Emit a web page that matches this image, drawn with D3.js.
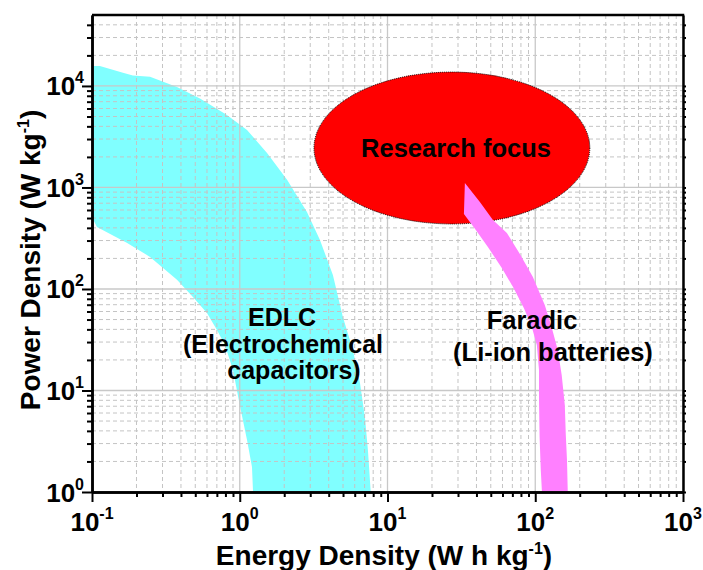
<!DOCTYPE html>
<html><head><meta charset="utf-8">
<script src="https://cdn.jsdelivr.net/npm/d3@7/dist/d3.min.js"></script>
<style>body{margin:0;background:#fff}svg{display:block}</style>
</head><body>
<svg id="c" width="703" height="570"></svg>
<script>
// ---------- data ----------
const xDomain = [0.1, 1000];
const yDomain = [1, 50000];
const xMajor = [0.1, 1, 10, 100, 1000];
const xExp = ["-1", "0", "1", "2", "3"];
const yMajor = [1, 10, 100, 1000, 10000];
const yExp = ["0", "1", "2", "3", "4"];

// EDLC region outline (energy W h/kg, power W/kg)
const edlcEnergy = [0.1, 0.113, 0.162, 0.189, 0.247, 0.376, 0.538, 0.819, 1.12, 1.53, 2.09, 2.85, 3.49, 4.27, 4.99, 5.83, 6.51, 7.03, 7.37, 7.7,
                    1.23, 1.21, 1.12, 1.00, 0.90, 0.794, 0.701, 0.600, 0.482, 0.376, 0.247, 0.173, 0.108, 0.1];
const edlcPower  = [15700, 15700, 13500, 12700, 12300, 9780, 7540, 5180, 3690, 2190, 1190, 574, 304, 137, 53, 25, 11.9, 5.48, 2.59, 1,
                    1, 1.76, 3.25, 7.2, 15.9, 28.1, 39.4, 58, 83.4, 123, 207, 284, 408, 512];

// Faradic (Li-ion) band outline
const faradicEnergy = [33.4, 42.2, 51.7, 64.3, 78.7, 96.4, 116, 129, 142, 151, 158.5, 161, 164, 166,
                       111, 109, 107, 106, 106, 102.5, 94.8, 83.7, 70.6, 59.4, 47.8, 39.6, 32.9];
const faradicPower  = [1107, 720, 478, 356, 221, 131, 69.5, 42.2, 25.1, 14.2, 7.2, 3.64, 2.07, 1,
                       1, 1.65, 3.48, 8.06, 15.9, 28.1, 42.2, 65, 105, 161, 259, 381, 548];

// Research focus ellipse extents
const focusEnergy = [3.18, 234];
const focusPower = [437, 13700];

const labelEDLC = ["EDLC", "(Electrochemical", "capacitors)"];
const labelFaradic = ["Faradic", "(Li-ion batteries)"];
const labelFocus = "Research focus";

// ---------- drawing ----------
const FONT = "'Liberation Sans', Arial, Helvetica, sans-serif";
const svg = d3.select("#c");
const L = 92, R = 683, T = 15, B = 492;
const x = d3.scaleLog().domain(xDomain).range([L, R]);
const y = d3.scaleLog().domain(yDomain).range([B, T]);

function minors(dom) {
  const out = [];
  for (let e = Math.round(Math.log10(dom[0])); e < Math.ceil(Math.log10(dom[1])); e++) {
    for (let m = 2; m <= 9; m++) {
      const v = +(m * Math.pow(10, e)).toPrecision(6);
      if (v > dom[0] && v < dom[1]) out.push(v);
    }
  }
  return out;
}
const xMinor = minors(xDomain);
const yMinor = minors(yDomain);

svg.append("defs").append("clipPath").attr("id", "plot")
  .append("rect").attr("x", L).attr("y", T).attr("width", R - L).attr("height", B - T);

const plot = svg.append("g").attr("clip-path", "url(#plot)");

const area = d3.line().x(d => x(d[0])).y(d => y(d[1])).curve(d3.curveLinearClosed);

// EDLC region
plot.append("path")
  .attr("d", area(edlcEnergy.map((e, i) => [e, edlcPower[i]])))
  .attr("fill", "#80ffff");

// grid
const grid = plot.append("g");
grid.selectAll(".vmin").data(xMinor).join("line")
  .attr("x1", d => x(d)).attr("x2", d => x(d)).attr("y1", T).attr("y2", B)
  .attr("stroke", "#c4c4c4").attr("stroke-width", 1).attr("stroke-dasharray", "4,3");
grid.selectAll(".hmin").data(yMinor).join("line")
  .attr("y1", d => y(d)).attr("y2", d => y(d)).attr("x1", L).attr("x2", R)
  .attr("stroke", "#c4c4c4").attr("stroke-width", 1).attr("stroke-dasharray", "4,3");
grid.selectAll(".vmaj").data(xMajor).join("line")
  .attr("x1", d => x(d)).attr("x2", d => x(d)).attr("y1", T).attr("y2", B)
  .attr("stroke", "#c8c8c8").attr("stroke-width", 1.3);
grid.selectAll(".hmaj").data(yMajor).join("line")
  .attr("y1", d => y(d)).attr("y2", d => y(d)).attr("x1", L).attr("x2", R)
  .attr("stroke", "#c8c8c8").attr("stroke-width", 1.3);

// Research focus ellipse
const ex0 = x(focusEnergy[0]), ex1 = x(focusEnergy[1]);
const ey0 = y(focusPower[1]), ey1 = y(focusPower[0]);
plot.append("ellipse")
  .attr("cx", (ex0 + ex1) / 2).attr("cy", (ey0 + ey1) / 2)
  .attr("rx", (ex1 - ex0) / 2).attr("ry", (ey1 - ey0) / 2)
  .attr("fill", "#ff0000").attr("stroke", "#000").attr("stroke-width", 1)
  .attr("stroke-dasharray", "1,1");

// Faradic band
plot.append("path")
  .attr("d", area(faradicEnergy.map((e, i) => [e, faradicPower[i]])))
  .attr("fill", "#ff80ff");

// annotations
const ann = svg.append("g").attr("font-family", FONT).attr("font-weight", "bold")
  .attr("font-size", 25).attr("fill", "#000").attr("text-anchor", "middle");
ann.append("text").attr("x", 456).attr("y", 157).attr("font-size", 25.5).text(labelFocus);
const edlcPos = [[282, 326], [283, 353], [294, 379]];
labelEDLC.forEach((t, i) => ann.append("text").attr("x", edlcPos[i][0]).attr("y", edlcPos[i][1]).text(t));
const farPos = [[532, 329], [553, 361]];
labelFaradic.forEach((t, i) => ann.append("text").attr("x", farPos[i][0]).attr("y", farPos[i][1]).attr("font-size", 25.5).text(t));

// axes
function styleAxis(g) {
  g.select(".domain").attr("stroke", "#000").attr("stroke-width", 2.5);
  g.selectAll(".tick line").attr("stroke", "#000").attr("stroke-width", 2);
  g.selectAll(".tick text").remove();
}
svg.append("g").attr("transform", `translate(0,${B})`)
  .call(d3.axisBottom(x).tickValues(xMinor).tickSize(5).tickSizeOuter(0).tickFormat(""))
  .call(styleAxis);
svg.append("g").attr("transform", `translate(0,${B})`)
  .call(d3.axisBottom(x).tickValues(xMajor).tickSize(10).tickSizeOuter(0).tickFormat(""))
  .call(styleAxis);
svg.append("g").attr("transform", `translate(${L},0)`)
  .call(d3.axisLeft(y).tickValues(yMinor).tickSize(5).tickSizeOuter(0).tickFormat(""))
  .call(styleAxis);
svg.append("g").attr("transform", `translate(${L},0)`)
  .call(d3.axisLeft(y).tickValues(yMajor).tickSize(10).tickSizeOuter(0).tickFormat(""))
  .call(styleAxis);
svg.append("g").attr("transform", `translate(${R},0)`)
  .call(d3.axisRight(y).tickValues(yMajor.concat(yMinor)).tickSize(3).tickSizeOuter(0).tickFormat(""))
  .call(styleAxis);
svg.append("line").attr("x1", L).attr("x2", R + 1.25).attr("y1", T).attr("y2", T)
  .attr("stroke", "#000").attr("stroke-width", 2.5);

// tick labels
const tl = svg.append("g").attr("font-family", FONT).attr("font-weight", "bold").attr("fill", "#000");
xMajor.forEach((v, i) => {
  const t = tl.append("text").attr("x", x(v)).attr("y", 531).attr("text-anchor", "middle").attr("font-size", 26);
  t.append("tspan").text("10");
  t.append("tspan").attr("font-size", 16).attr("dy", -12).text(xExp[i]);
});
yMajor.forEach((v, i) => {
  const t = tl.append("text").attr("x", 84).attr("y", y(v) + 9.5).attr("text-anchor", "end").attr("font-size", 26);
  t.append("tspan").text("10");
  t.append("tspan").attr("font-size", 16).attr("dy", -12).text(yExp[i]);
});

// axis titles
const xt = tl.append("text").attr("x", 384).attr("y", 565).attr("text-anchor", "middle").attr("font-size", 28);
xt.append("tspan").text("Energy Density (W h kg");
xt.append("tspan").attr("font-size", 16).attr("dy", -11).text("-1");
xt.append("tspan").attr("dy", 11).text(")");

const yt = tl.append("text").attr("transform", "translate(40,260) rotate(-90)").attr("text-anchor", "middle").attr("font-size", 28);
yt.append("tspan").text("Power Density (W kg");
yt.append("tspan").attr("font-size", 16).attr("dy", -11).text("-1");
yt.append("tspan").attr("dy", 11).text(")");
</script>
</body></html>
